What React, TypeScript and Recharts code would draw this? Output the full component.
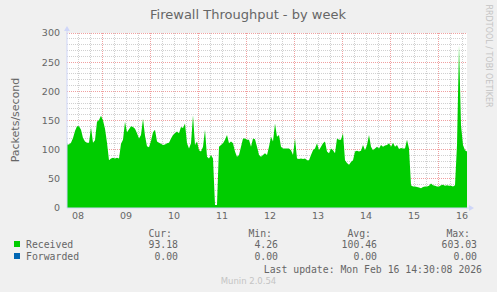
import { AreaChart, Area, XAxis, YAxis, CartesianGrid, usePlotArea } from 'recharts';

// Received packets/s, one value per hour from Feb 08 06:30 to Feb 16 14:30
const received = [
  109, 109, 112, 120, 132, 140, 140, 134, 120, 114,
  112, 112, 138, 112, 116, 148, 151, 158, 150, 136,
  112, 82, 85, 86, 85, 86, 85, 110, 117, 148,
  130, 135, 140, 139, 136, 128, 119, 125, 153, 124,
  106, 104, 115, 130, 134, 114, 112, 110, 108, 109,
  111, 112, 119, 125, 128, 131, 128, 139, 137, 145,
  111, 102, 111, 159, 108, 114, 99, 97, 105, 134,
  88, 85, 91, 85, 5, 5, 105, 108, 111, 117,
  125, 111, 114, 111, 97, 88, 91, 105, 119, 119,
  117, 117, 105, 119, 118, 105, 91, 88, 91, 94,
  91, 105, 122, 114, 145, 122, 125, 105, 102, 102,
  102, 102, 99, 91, 119, 85, 84, 85, 84, 85,
  82, 82, 91, 99, 102, 111, 99, 105, 111, 114,
  97, 94, 102, 99, 94, 119, 117, 117, 128, 82,
  77, 74, 79, 82, 97, 98, 97, 98, 108, 99,
  108, 125, 105, 99, 102, 105, 102, 108, 105, 107,
  108, 111, 105, 112, 105, 108, 101, 103, 102, 102,
  117, 102, 39, 37, 37, 36, 35, 34, 36, 37,
  37, 38, 42, 39, 38, 37, 37, 39, 40, 38,
  39, 38, 38, 37, 39, 108, 279, 142, 108, 99,
  97,
];

// noon of each day, in hours from the start of the graph
const dayTicks = [5.5, 29.5, 53.5, 77.5, 101.5, 125.5, 149.5, 173.5, 197.5];
const dayLabels = ['08', '09', '10', '11', '12', '13', '14', '15', '16'];
const midnights = [17.5, 41.5, 65.5, 89.5, 113.5, 137.5, 161.5, 185.5];
const yTicks = [0, 50, 100, 150, 200, 250, 300];

const legendRows = [
  { name: 'Received', color: '#00CC00', cur: '93.18', min: '4.26', avg: '100.46', max: '603.03' },
  { name: 'Forwarded', color: '#0066B3', cur: '0.00', min: '0.00', avg: '0.00', max: '0.00' },
];

const data = received.map((v, i) => ({ hour: i, received: v }));
const sixHours = Array.from({ length: 34 }, (_, i) => -0.5 + i * 6).filter((h) => h > 0 && h < 200);
const tens = Array.from({ length: 30 }, (_, i) => (i + 1) * 10);

const AXIS = '#CFD6F8';
const FONT = '#666666';
const MONO = '"DejaVu Sans Mono", monospace';
const SANS = '"DejaVu Sans", sans-serif';

function AxisArrows() {
  const area = usePlotArea();
  if (!area) return null;
  const { x, y, width, height } = area;
  const bx = x + width;
  const by = y + height;
  return (
    <g fill={AXIS} stroke="none">
      <rect x={x - 0.5} y={y - 2} width={1} height={3} />
      <polygon points={`${x - 3},${y - 2} ${x + 3},${y - 2} ${x},${y - 7}`} />
      <rect x={bx - 1} y={by - 0.5} width={3} height={1} />
      <polygon points={`${bx + 2},${by - 3} ${bx + 2},${by + 3} ${bx + 7},${by}`} />
    </g>
  );
}

export default function App() {
  return (
    <div style={{ position: 'absolute', left: 0, top: 0, width: 497, height: 292, background: '#F0F0F0' }}>
      <AreaChart width={497} height={292} data={data} margin={{ top: 33, right: 30, left: 0, bottom: 0 }}>
        <CartesianGrid
          fill="#FFFFFF"
          stroke="#D0D0D0"
          strokeDasharray="1 1"
          shapeRendering="crispEdges"
          horizontalValues={tens}
          verticalValues={sixHours}
        />
        <CartesianGrid
          stroke="#F0A0A0"
          strokeDasharray="1 1"
          shapeRendering="crispEdges"
          horizontalValues={yTicks.filter((t) => t > 0)}
          verticalValues={midnights}
        />
        <XAxis
          dataKey="hour"
          type="number"
          domain={[0, 200]}
          ticks={dayTicks}
          tickFormatter={(v) => dayLabels[dayTicks.indexOf(v)]}
          height={84}
          tickLine={false}
          tickSize={0}
          tickMargin={4}
          axisLine={{ stroke: AXIS }}
          tick={{ fill: FONT, fontSize: 9.5, fontFamily: SANS }}
          interval={0}
        />
        <YAxis
          domain={[0, 300]}
          ticks={yTicks}
          width={67}
          tickLine={false}
          tickSize={0}
          tickMargin={7}
          axisLine={{ stroke: AXIS }}
          tick={{ fill: FONT, fontSize: 9.5, fontFamily: SANS }}
          interval={0}
        />
        <Area
          type="linear"
          dataKey="received"
          fill="#00CC00"
          fillOpacity={1}
          stroke="none"
          isAnimationActive={false}
        />
        <AxisArrows />
      </AreaChart>
      <svg width={497} height={292} style={{ position: 'absolute', left: 0, top: 0, pointerEvents: 'none' }}>
        <text x={248} y={14} textAnchor="middle" dominantBaseline="central" fill={FONT} fontSize={13} fontFamily={SANS}>
          Firewall Throughput - by week
        </text>
        <text
          x={15}
          y={120}
          textAnchor="middle"
          dominantBaseline="central"
          fill={FONT}
          fontSize={11}
          fontFamily={SANS}
          transform="rotate(-90 15 120)"
        >
          Packets/second
        </text>
        <text
          x={488.5}
          y={56}
          textAnchor="middle"
          dominantBaseline="central"
          fill="#C4C4C4"
          fontSize={8}
          fontFamily={SANS}
          transform="rotate(90 488.5 56)"
        >
          RRDTOOL / TOBI OETIKER
        </text>
        <g fill={FONT} fontSize={9.8} fontFamily={MONO} dominantBaseline="central">
          <text x={172} y={233} textAnchor="end">Cur:</text>
          <text x={272} y={233} textAnchor="end">Min:</text>
          <text x={371} y={233} textAnchor="end">Avg:</text>
          <text x={470} y={233} textAnchor="end">Max:</text>
          {legendRows.map((r, i) => {
            const cy = 244 + i * 12;
            return (
              <g key={r.name}>
                <rect x={14} y={cy - 3} width={6} height={6} fill={r.color} />
                <text x={26} y={cy}>{r.name}</text>
                <text x={178} y={cy} textAnchor="end">{r.cur}</text>
                <text x={278} y={cy} textAnchor="end">{r.min}</text>
                <text x={377} y={cy} textAnchor="end">{r.avg}</text>
                <text x={477} y={cy} textAnchor="end">{r.max}</text>
              </g>
            );
          })}
          <text x={482} y={269} textAnchor="end">Last update: Mon Feb 16 14:30:08 2026</text>
        </g>
        <text x={248.5} y={281} textAnchor="middle" dominantBaseline="central" fill="#C4C4C4" fontSize={8.5} fontFamily={SANS}>
          Munin 2.0.54
        </text>
      </svg>
    </div>
  );
}
